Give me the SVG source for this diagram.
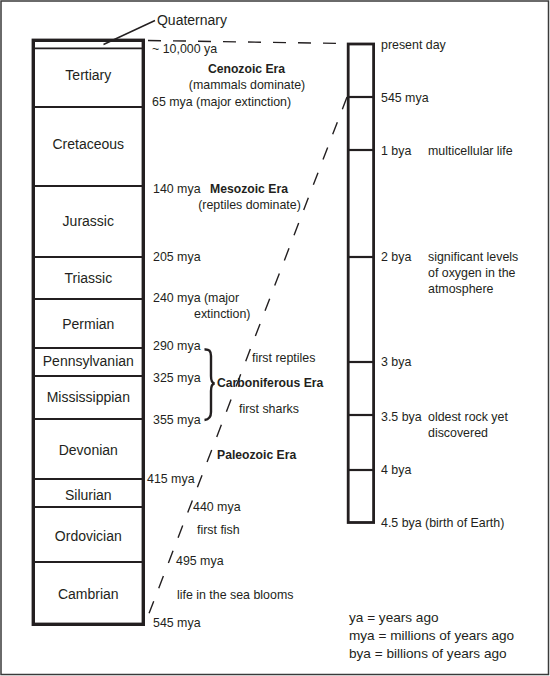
<svg xmlns="http://www.w3.org/2000/svg" width="550" height="676" viewBox="0 0 550 676">
<style>
text{font-family:"Liberation Sans",Arial,sans-serif;fill:#231f20}
.s{font-size:12.4px}
.b{font-size:12.2px;font-weight:bold}
.c{font-size:14px;text-anchor:middle}
.m{text-anchor:middle}
.lg{font-size:13.6px}
.box{fill:none;stroke:#231f20}
.div{stroke:#231f20;stroke-width:1.8}
.tick{stroke:#231f20;stroke-width:2.2}
.dash{fill:none;stroke:#231f20;stroke-width:1.4}
</style>
<rect x="1" y="1" width="547.5" height="673.5" fill="#fff" stroke="#3a3a3a" stroke-width="1.5"/>

<g id="left-column">
  <rect class="box" x="33.3" y="40.3" width="110" height="584" stroke-width="3.4"/>
  <g id="quaternary"><line class="div" x1="33" y1="48.3" x2="143" y2="48.3"/><text class="c" x="192" y="25">Quaternary</text></g>
  <g id="tertiary"><line class="div" x1="33" y1="107" x2="143" y2="107"/><text class="c" x="88.3" y="80">Tertiary</text></g>
  <g id="cretaceous"><line class="div" x1="33" y1="186" x2="143" y2="186"/><text class="c" x="88.3" y="149">Cretaceous</text></g>
  <g id="jurassic"><line class="div" x1="33" y1="257" x2="143" y2="257"/><text class="c" x="88.3" y="226">Jurassic</text></g>
  <g id="triassic"><line class="div" x1="33" y1="299" x2="143" y2="299"/><text class="c" x="88.3" y="283">Triassic</text></g>
  <g id="permian"><line class="div" x1="33" y1="348" x2="143" y2="348"/><text class="c" x="88.3" y="329">Permian</text></g>
  <g id="pennsylvanian"><line class="div" x1="33" y1="376" x2="143" y2="376"/><text class="c" x="88.3" y="366">Pennsylvanian</text></g>
  <g id="mississippian"><line class="div" x1="33" y1="419" x2="143" y2="419"/><text class="c" x="88.3" y="402">Mississippian</text></g>
  <g id="devonian"><line class="div" x1="33" y1="479" x2="143" y2="479"/><text class="c" x="88.3" y="455">Devonian</text></g>
  <g id="silurian"><line class="div" x1="33" y1="507" x2="143" y2="507"/><text class="c" x="88.3" y="500">Silurian</text></g>
  <g id="ordovician"><line class="div" x1="33" y1="562" x2="143" y2="562"/><text class="c" x="88.3" y="541">Ordovician</text></g>
  <g id="cambrian"><text class="c" x="88.3" y="599">Cambrian</text></g>
</g>

<g id="left-labels">
  <text class="s" x="152" y="53">~ 10,000 ya</text>
  <text class="b m" x="246.5" y="73">Cenozoic Era</text>
  <text class="s m" x="247" y="89">(mammals dominate)</text>
  <text class="s" x="152" y="106">65 mya (major extinction)</text>
  <text class="s" x="153" y="193">140 mya</text>
  <text class="b m" x="249" y="193">Mesozoic Era</text>
  <text class="s m" x="249.5" y="209">(reptiles dominate)</text>
  <text class="s" x="153" y="261">205 mya</text>
  <text class="s" x="153" y="302">240 mya (major</text>
  <text class="s" x="194" y="318">extinction)</text>
  <text class="s" x="153" y="350">290 mya</text>
  <text class="s" x="252" y="362">first reptiles</text>
  <text class="s" x="153" y="382">325 mya</text>
  <text class="b" x="217" y="387">Carboniferous Era</text>
  <text class="s" x="239" y="413">first sharks</text>
  <text class="s" x="153" y="424">355 mya</text>
  <text class="b" x="217" y="459">Paleozoic Era</text>
  <text class="s" x="147" y="483">415 mya</text>
  <text class="s" x="193" y="511">440 mya</text>
  <text class="s" x="197" y="534">first fish</text>
  <text class="s" x="176" y="565">495 mya</text>
  <text class="s" x="177" y="599">life in the sea blooms</text>
  <text class="s" x="153" y="627">545 mya</text>
</g>

<g id="right-column">
  <rect class="box" x="348.2" y="44" width="25.4" height="478.5" stroke-width="2.8"/>
  <g id="r-present"><text class="s" x="381" y="49">present day</text></g>
  <g id="r-545"><line class="tick" x1="348" y1="97" x2="374" y2="97"/><text class="s" x="381" y="102">545 mya</text></g>
  <g id="r-1bya"><line class="tick" x1="348" y1="150" x2="374" y2="150"/><text class="s" x="381" y="155">1 bya</text><text class="s" x="428" y="155">multicellular life</text></g>
  <g id="r-2bya"><line class="tick" x1="348" y1="257" x2="374" y2="257"/><text class="s" x="381" y="261">2 bya</text><text class="s" x="428" y="261">significant levels</text><text class="s" x="428" y="277">of oxygen in the</text><text class="s" x="428" y="293">atmosphere</text></g>
  <g id="r-3bya"><line class="tick" x1="348" y1="362" x2="374" y2="362"/><text class="s" x="381" y="366">3 bya</text></g>
  <g id="r-35bya"><line class="tick" x1="348" y1="415" x2="374" y2="415"/><text class="s" x="381" y="421">3.5 bya</text><text class="s" x="428" y="421">oldest rock yet</text><text class="s" x="428" y="437">discovered</text></g>
  <g id="r-4bya"><line class="tick" x1="348" y1="470" x2="374" y2="470"/><text class="s" x="381" y="474">4 bya</text></g>
  <g id="r-45bya"><text class="s" x="381" y="527">4.5 bya (birth of Earth)</text></g>
</g>

<g id="legend">
  <text class="lg" x="349" y="622">ya = years ago</text>
  <text class="lg" x="349" y="640">mya = millions of years ago</text>
  <text class="lg" x="349" y="658">bya = billions of years ago</text>
</g>

<g id="connectors">
  <line class="dash" x1="148" y1="40.5" x2="347" y2="43.5" stroke-dasharray="13 12"/>
  <line class="dash" x1="347" y1="97" x2="145" y2="624" stroke-dasharray="13 14"/>
  <line x1="155" y1="20.5" x2="103.5" y2="44.5" stroke="#231f20" stroke-width="1.4"/>
  <path d="M204.5,349.5 C209,349 211,351 211,356 L211,376 C211,381 212,383 214.5,383.5 C212,384 211,386 211,391 L211,412 C211,417 209,419.5 204.5,420" fill="none" stroke="#231f20" stroke-width="2.4"/>
</g>
</svg>
